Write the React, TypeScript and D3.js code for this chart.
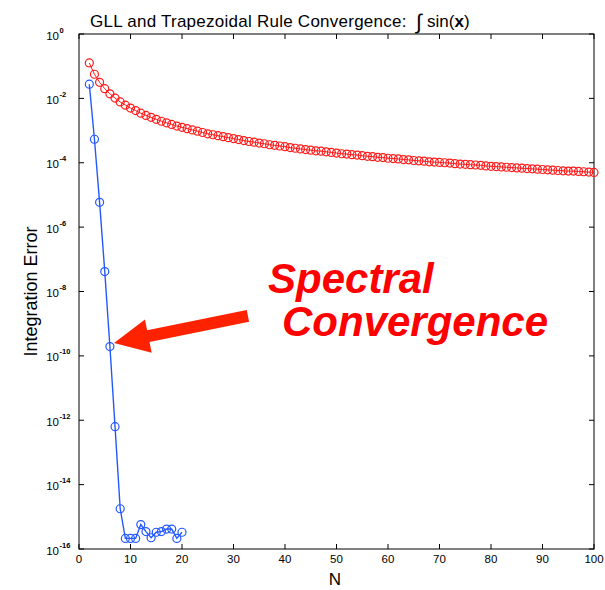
import React from 'react';
import * as d3 from 'd3';

// log10 of the integration error
const gllN = [2, 3, 4, 5, 6, 7, 8, 9, 10, 11, 12, 13, 14, 15, 16, 17, 18, 19, 20];
const gllLog10 = [
  -1.56, -3.27, -5.23, -7.38, -9.71, -12.2, -14.75, -15.67, -15.67, -15.67,
  -15.24, -15.46, -15.65, -15.48, -15.46, -15.38, -15.38, -15.67, -15.48,
];

const trapN = d3.range(2, 101);
const trapLog10 = [
  -0.90, -1.25, -1.50, -1.70, -1.86, -1.99, -2.11, -2.21, -2.30,
  -2.38, -2.46, -2.53, -2.59, -2.65, -2.71, -2.76, -2.81, -2.86, -2.90,
  -2.94, -2.98, -3.02, -3.06, -3.10, -3.13, -3.16, -3.19, -3.22, -3.25,
  -3.28, -3.31, -3.34, -3.36, -3.39, -3.41, -3.44, -3.46, -3.48, -3.50,
  -3.53, -3.55, -3.57, -3.59, -3.61, -3.63, -3.64, -3.66, -3.68, -3.70,
  -3.72, -3.73, -3.75, -3.76, -3.78, -3.80, -3.81, -3.83, -3.84, -3.86,
  -3.87, -3.88, -3.90, -3.91, -3.93, -3.94, -3.95, -3.97, -3.98, -3.99,
  -4.00, -4.01, -4.03, -4.04, -4.05, -4.06, -4.07, -4.08, -4.10, -4.11,
  -4.12, -4.13, -4.14, -4.15, -4.16, -4.17, -4.18, -4.19, -4.20, -4.21,
  -4.22, -4.23, -4.24, -4.25, -4.26, -4.26, -4.27, -4.28, -4.29, -4.30,
];

const xTicks = [0, 10, 20, 30, 40, 50, 60, 70, 80, 90, 100];
const yTickExp = [0, -2, -4, -6, -8, -10, -12, -14, -16];

// annotation arrow, in data units (N, log10 error)
const arrowTip = { n: 6.8, e: -9.6 };
const arrowTail = { n: 32.8, e: -8.76 };

const W = 605;
const H = 590;
const left = 79, right = 594, top = 34, bottom = 549;
const font = "'Liberation Sans', Arial, Helvetica, sans-serif";
const RED = '#ff1a1a';
const BLUE = '#2458ff';

const App: React.FC = () => {
  const x = d3.scaleLinear().domain([0, 100]).range([left, right]);
  const y = d3.scaleLog().domain([1e-16, 1]).range([bottom, top]);

  const gll = gllN.map((n, i) => ({ n, v: Math.pow(10, gllLog10[i]) }));
  const trap = trapN.map((n, i) => ({ n, v: Math.pow(10, trapLog10[i]) }));

  const line = d3.line<{ n: number; v: number }>()
    .x(d => x(d.n))
    .y(d => y(d.v));

  // arrow polygon
  const tx = x(arrowTip.n), ty = y(Math.pow(10, arrowTip.e));
  const sx = x(arrowTail.n), sy = y(Math.pow(10, arrowTail.e));
  const len = Math.hypot(tx - sx, ty - sy);
  const ux = (tx - sx) / len, uy = (ty - sy) / len;
  const nx = -uy, ny = ux;
  const shaft = 6, headW = 17, headL = 35;
  const bx = tx - ux * headL, by = ty - uy * headL;
  const pts: [number, number][] = [
    [sx + nx * shaft, sy + ny * shaft],
    [bx + nx * shaft, by + ny * shaft],
    [bx + nx * headW, by + ny * headW],
    [tx, ty],
    [bx - nx * headW, by - ny * headW],
    [bx - nx * shaft, by - ny * shaft],
    [sx - nx * shaft, sy - ny * shaft],
  ];

  const tl = 5;

  return (
    <svg width={W} height={H} style={{ position: 'absolute', left: 0, top: 0, background: '#fff' }}
      fontFamily={font}>
      <rect x={0} y={0} width={W} height={H} fill="#fff" />

      {/* title */}
      <text x={90} y={27} fontSize={17} fill="#000" letterSpacing={0.25}>
        GLL and Trapezoidal Rule Convergence:
      </text>
      <text x={416} y={29} fontSize={21} fill="#000">∫</text>
      <text x={427} y={27} fontSize={17} fill="#000">
        sin(<tspan fontWeight="bold">x</tspan>)
      </text>

      {/* frame */}
      <rect x={left} y={top} width={right - left} height={bottom - top}
        fill="none" stroke="#000" strokeWidth={1} />

      {/* x ticks */}
      {xTicks.map(t => (
        <g key={'x' + t}>
          <line x1={x(t)} x2={x(t)} y1={bottom} y2={bottom - tl} stroke="#000" />
          <line x1={x(t)} x2={x(t)} y1={top} y2={top + tl} stroke="#000" />
          <text x={x(t)} y={563} fontSize={11.5} textAnchor="middle" fill="#000">{t}</text>
        </g>
      ))}

      {/* y ticks */}
      {yTickExp.map(e => {
        const yy = y(Math.pow(10, e));
        return (
          <g key={'y' + e}>
            <line x1={left} x2={left + tl} y1={yy} y2={yy} stroke="#000" />
            <line x1={right} x2={right - tl} y1={yy} y2={yy} stroke="#000" />
            <text x={59} y={yy + 5.5} fontSize={11.5} textAnchor="end" fill="#000">10</text>
            <text x={59.5} y={yy - 1.5} fontSize={7.5} fontWeight="bold" fill="#000">
              {e === 0 ? '0' : String(e)}
            </text>
          </g>
        );
      })}

      {/* axis labels */}
      <text x={335} y={585} fontSize={17} textAnchor="middle" fill="#000">N</text>
      <text transform={`translate(37,${(top + bottom) / 2}) rotate(-90)`} fontSize={18}
        textAnchor="middle" fill="#000">Integration Error</text>

      {/* trapezoidal series */}
      <path d={line(trap) || ''} fill="none" stroke={RED} strokeWidth={1} />
      {trap.map(d => (
        <circle key={'t' + d.n} cx={x(d.n)} cy={y(d.v)} r={4}
          fill="none" stroke={RED} strokeWidth={1.2} />
      ))}

      {/* GLL series */}
      <path d={line(gll) || ''} fill="none" stroke={BLUE} strokeWidth={1.4} />
      {gll.map(d => (
        <circle key={'g' + d.n} cx={x(d.n)} cy={y(d.v)} r={4}
          fill="none" stroke={BLUE} strokeWidth={1.2} />
      ))}

      {/* annotation */}
      <polygon points={pts.map(p => p.join(',')).join(' ')} fill="#ff2200" />
      <text x={268} y={293} fontSize={42} fontWeight="bold" fontStyle="italic" fill="#ff0000">Spectral</text>
      <text x={282} y={336} fontSize={42} fontWeight="bold" fontStyle="italic" fill="#ff0000">Convergence</text>
    </svg>
  );
};

export default App;
